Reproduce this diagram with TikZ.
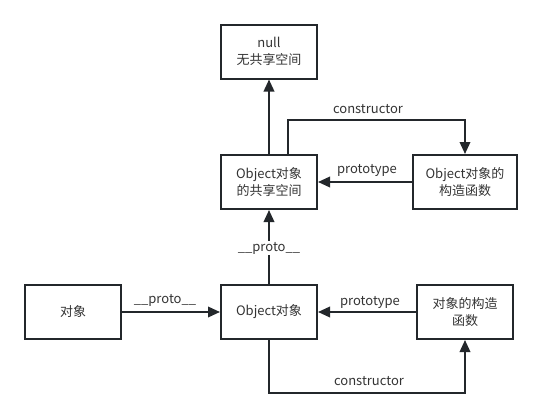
\documentclass[tikz,border=0pt]{standalone}
\usepackage{fontspec}
\setmainfont{Noto Sans CJK SC}
\usetikzlibrary{arrows.meta}
\definecolor{linec}{RGB}{35,39,43}
\definecolor{txtc}{RGB}{51,51,51}
\tikzset{
  box/.style={draw=linec, line width=2pt, minimum width=96pt, minimum height=54pt, inner sep=0pt, align=center, text=txtc, font=\fontsize{13}{17}\selectfont},
  wbox/.style={box, minimum width=104pt},
  arr/.style={draw=linec, line width=2pt, -{Triangle[length=12pt,width=10.5pt]}},
  lbl/.style={text=txtc, font=\fontsize{13}{15}\selectfont, inner sep=1pt}
}
\begin{document}
\begin{tikzpicture}[x=1pt,y=-1pt]
\useasboundingbox (0,0) rectangle (542,418);
\node[box] (null) at (269,51.5) {null\\无共享空间};
\node[box] (shared) at (269,182) {Object对象\\的共享空间};
\node[wbox] (objctor) at (465,182) {Object对象的\\构造函数};
\node[box] (obj) at (73,312) {对象};
\node[box] (objo) at (269,312) {Object对象};
\node[box] (ctor) at (465,312) {对象的构造\\函数};

\draw[arr] (shared.north) -- (null.south);
\draw[arr] ([xshift=19pt]shared.north) -- ++(0,-34) -| (objctor.north);
\draw[arr] (objctor.west) -- (shared.east);
\draw[arr] (objo.north) -- (shared.south);
\draw[arr] (obj.east) -- (objo.west);
\draw[arr] (ctor.west) -- (objo.east);
\draw[arr] (objo.south) -- ++(0,53) -| (ctor.south);

\node[lbl] (l1) at (368,109) {constructor};
\node[lbl] (l2) at (367,170) {prototype};
\node[lbl, fill=white] (l3) at (269,248) {\_\_proto\_\_};
\node[lbl] (l4) at (165,300) {\_\_proto\_\_};
\node[lbl] (l5) at (370,302) {prototype};
\node[lbl] (l6) at (369,381) {constructor};
\end{tikzpicture}
\end{document}
